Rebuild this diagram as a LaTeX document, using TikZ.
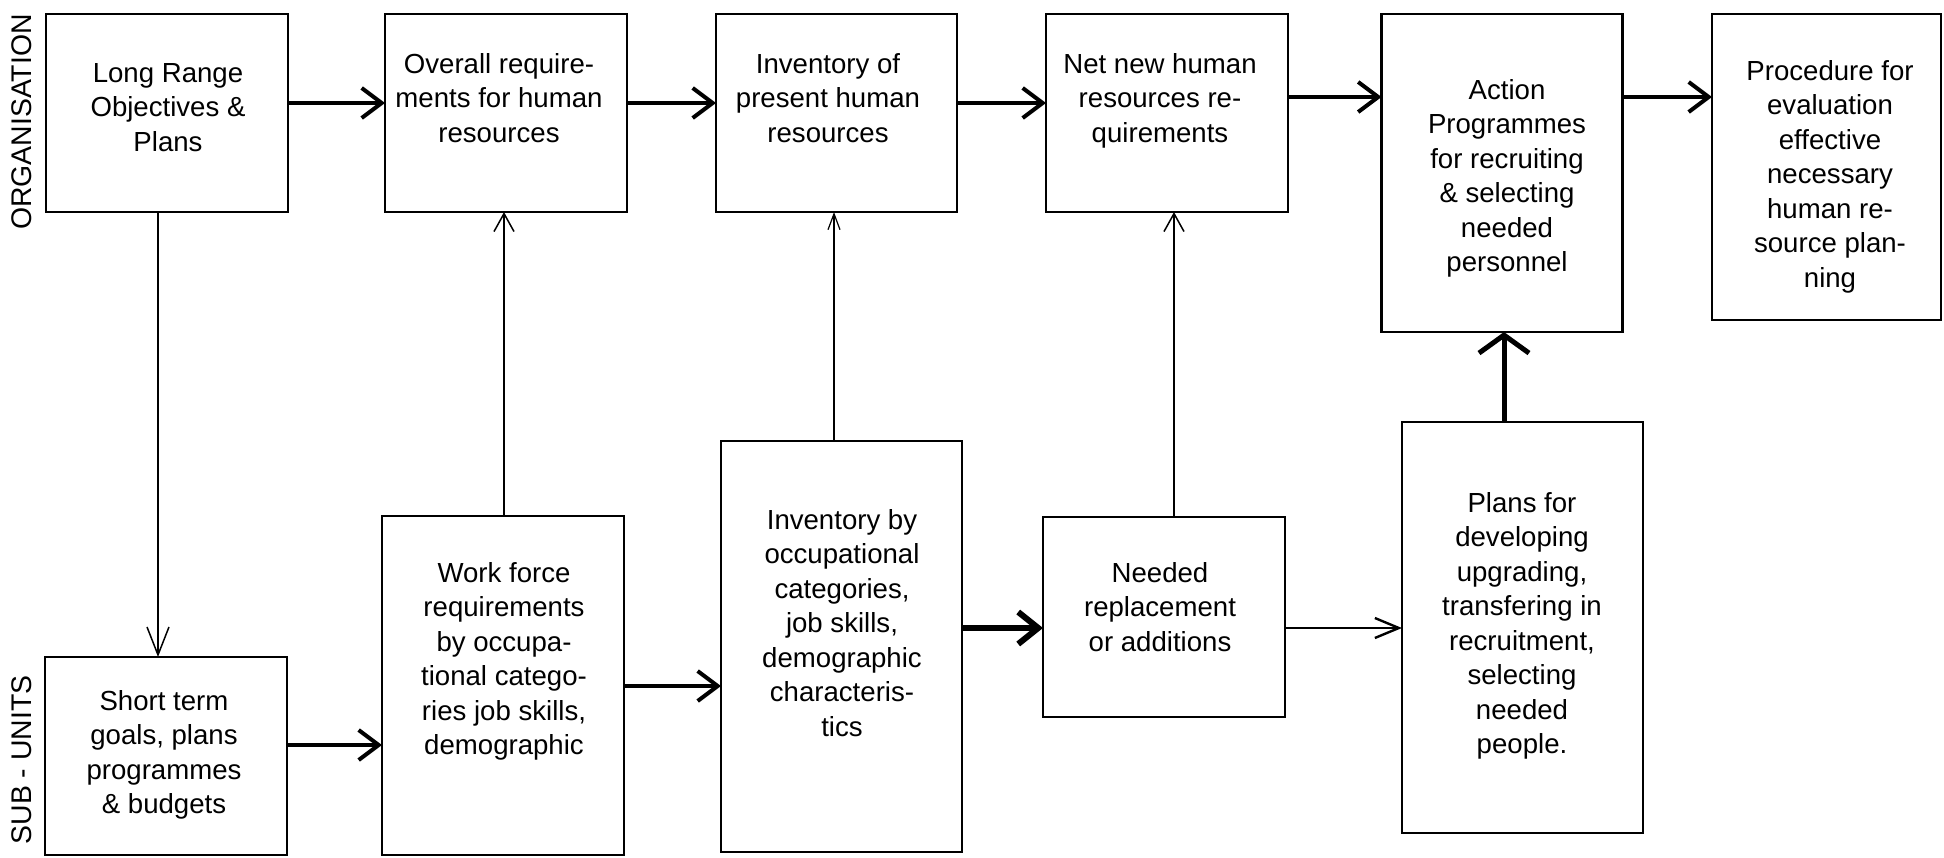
\documentclass[tikz,border=0pt]{standalone}
\usepackage{fontspec}
\setmainfont{Liberation Sans}
\usetikzlibrary{arrows.meta}
\begin{document}
\begin{tikzpicture}[x=0.5pt,y=-0.5pt,
  box/.style={draw, line width=1.25pt, rectangle, inner sep=0pt, outer sep=0pt},
  txt/.style={align=center, anchor=north, font=\fontsize{13.8pt}{17.25pt}\selectfont, inner sep=0pt},
  side/.style={rotate=90, font=\fontsize{14.2pt}{17pt}\selectfont, inner sep=0pt},
  arrthick/.style={line width=2pt, -{Straight Barb[length=10pt,width=15pt]}},
  arrheavy/.style={line width=3pt, -{Straight Barb[length=10pt,width=16pt]}},
  arrthin/.style={line width=0.75pt, -{Straight Barb[length=14pt,width=11pt]}},
  arrthinb/.style={line width=0.75pt, -{Straight Barb[length=9pt,width=10pt]}},
  arrthinc/.style={line width=0.6pt, -{Straight Barb[length=8pt,width=6pt]}},
  arrmed/.style={line width=1.2pt, -{Straight Barb[length=12pt,width=10pt]}},
  arrup/.style={line width=2.5pt, -{Straight Barb[length=9pt,width=25pt]}}
]
\useasboundingbox (0,0) rectangle (1944,857);

% boxes
\node[box, minimum width=121pt, minimum height=99pt] (A) at (167,113) {};
\node[box, minimum width=121pt, minimum height=99pt] (B) at (506,113) {};
\node[box, minimum width=120.5pt, minimum height=99pt] (C) at (836.5,113) {};
\node[box, minimum width=121pt, minimum height=99pt] (D) at (1167,113) {};
\node[box, minimum width=120.5pt, minimum height=159pt] (E) at (1502,173) {};
\node[box, minimum width=114.5pt, minimum height=153pt] (F) at (1826.5,167) {};
\node[box, minimum width=121pt, minimum height=99pt] (G) at (166,756) {};
\node[box, minimum width=121pt, minimum height=169.5pt] (H) at (503,685.5) {};
\node[box, minimum width=120.5pt, minimum height=205.5pt] (I) at (841.5,646.5) {};
\node[box, minimum width=121pt, minimum height=100pt] (J) at (1164,617) {};
\node[box, minimum width=120.5pt, minimum height=205.5pt] (K) at (1522.5,627.5) {};

% texts
\node[txt] (tA) at (168,63) {Long Range\\Objectives \&\\Plans};
\node[txt] (tB) at (499,53) {Overall require-\\ments for human\\resources};
\node[txt] (tC) at (828,53) {Inventory of\\present human\\resources};
\node[txt] (tD) at (1160,53) {Net new human\\resources re-\\quirements};
\node[txt] (tE) at (1507,79) {Action\\Programmes\\for recruiting\\\& selecting\\needed\\personnel};
\node[txt] (tF) at (1830,60) {Procedure for\\evaluation\\effective\\necessary\\human re-\\source plan-\\ning};
\node[txt] (tG) at (164,690) {Short term\\goals, plans\\programmes\\\& budgets};
\node[txt] (tH) at (504,562) {Work force\\requirements\\by occupa-\\tional catego-\\ries job skills,\\demographic};
\node[txt] (tI) at (842,509) {Inventory by\\occupational\\categories,\\job skills,\\demographic\\characteris-\\tics};
\node[txt] (tJ) at (1160,562) {Needed\\replacement\\or additions};
\node[txt] (tK) at (1522,492) {Plans for\\developing\\upgrading,\\transfering in\\recruitment,\\selecting\\needed\\people.};

\node[side] (org) at (22,122) {ORGANISATION};
\node[side] (sub) at (22,760) {SUB - UNITS};

% top row arrows
\draw[arrthick] (A.east |- 0,103) -- (B.west |- 0,103);
\draw[arrthick] (B.east |- 0,103) -- (C.west |- 0,103);
\draw[arrthick] (C.east |- 0,103) -- (D.west |- 0,103);
\draw[arrthick] (D.east |- 0,97) -- (E.west |- 0,97);
\draw[arrthick] (E.east |- 0,97) -- (F.west |- 0,97);

% verticals
\draw[arrthin] (158,0 |- A.south) -- (158,0 |- G.north);
\draw[arrthinb] (504,0 |- H.north) -- (504,0 |- B.south);
\draw[arrthinc] (834,0 |- I.north) -- (834,0 |- C.south);
\draw[arrthinb] (1174,0 |- J.north) -- (1174,0 |- D.south);
\draw[arrup] (1504,0 |- K.north) -- (1504,0 |- E.south);

% bottom row arrows
\draw[arrthick] (G.east |- 0,745) -- (H.west |- 0,745);
\draw[arrthick] (H.east |- 0,686) -- (I.west |- 0,686);
\draw[arrheavy] (I.east |- 0,628) -- (J.west |- 0,628);
\draw[arrmed] (J.east |- 0,628) -- (K.west |- 0,628);
\end{tikzpicture}
\end{document}
